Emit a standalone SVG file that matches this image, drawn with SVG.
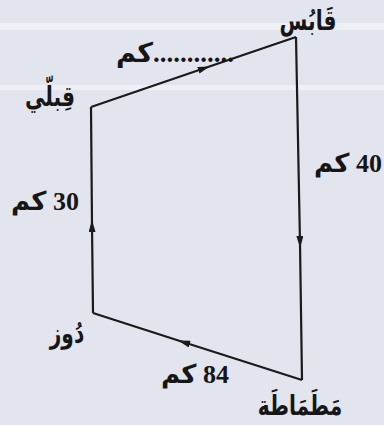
<svg xmlns="http://www.w3.org/2000/svg" width="384" height="425" viewBox="0 0 384 425">
<style>
.lbl{font-family:"Liberation Serif","DejaVu Sans",serif;font-weight:bold;fill:#161616;text-anchor:middle}
.ar{font-family:"DejaVu Sans","Liberation Serif",sans-serif;font-weight:bold;fill:#161616;text-anchor:middle;font-size:28px}
.edge{fill:none;stroke:#1a1a1a;stroke-width:2.2;marker-mid:url(#arr)}
</style>
<defs>
<marker id="arr" viewBox="0 0 12 7" refX="7" refY="3.5" markerWidth="12" markerHeight="7" markerUnits="userSpaceOnUse" orient="auto">
<path d="M0,0 L12,3.5 L0,7 Z" fill="#1a1a1a"/>
</marker>
</defs>
<rect width="384" height="425" fill="#e3e5ee"/>
<rect y="23" width="384" height="7" fill="#eef0f6"/>
<rect y="85" width="384" height="5" fill="#eef0f6"/>
<g id="connectors">
<path class="edge" d="M91,107 L205,68 L296,37"/>
<path class="edge" d="M296,37 L300,243 L302,380"/>
<path class="edge" d="M302,380 L183,342 L93,313"/>
<path class="edge" d="M93,313 L92,225 L91,107"/>
<text class="lbl" x="175" y="62" font-size="27">كم............</text>
<text class="lbl" x="348" y="172" font-size="26" direction="rtl">40 كم</text>
<text class="lbl" x="45" y="210" font-size="26" direction="rtl">30 كم</text>
<text class="lbl" x="195" y="383" font-size="26" direction="rtl">84 كم</text>
</g>
<g id="gabes"><text class="ar" transform="translate(308,30) scale(0.72,1)">قَابُس</text></g>
<g id="kebili"><text class="ar" transform="translate(50,106) scale(0.72,1)">قِبلّي</text></g>
<g id="douz"><text class="ar" transform="translate(67,343) scale(0.72,1)">دُوز</text></g>
<g id="matmata"><text class="ar" transform="translate(300,415) scale(0.72,1)">مَطَمَاطَة</text></g>
</svg>
